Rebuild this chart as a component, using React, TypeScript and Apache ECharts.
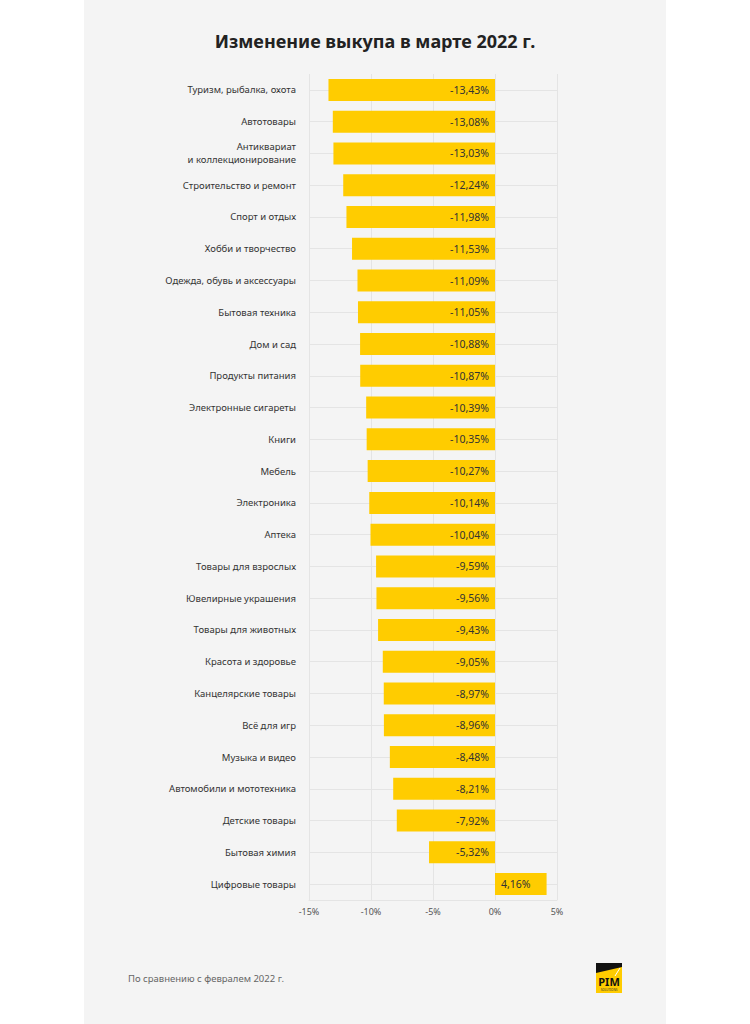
import React, { useEffect, useRef } from "react";
import * as echarts from "echarts";

const categories: string[] = [
  "Туризм, рыбалка, охота",
  "Автотовары",
  "Антиквариат\nи коллекционирование",
  "Строительство и ремонт",
  "Спорт и отдых",
  "Хобби и творчество",
  "Одежда, обувь и аксессуары",
  "Бытовая техника",
  "Дом и сад",
  "Продукты питания",
  "Электронные сигареты",
  "Книги",
  "Мебель",
  "Электроника",
  "Аптека",
  "Товары для взрослых",
  "Ювелирные украшения",
  "Товары для животных",
  "Красота и здоровье",
  "Канцелярские товары",
  "Всё для игр",
  "Музыка и видео",
  "Автомобили и мототехника",
  "Детские товары",
  "Бытовая химия",
  "Цифровые товары",
];

const values: number[] = [
  -13.43, -13.08, -13.03, -12.24, -11.98, -11.53, -11.09, -11.05, -10.88, -10.87,
  -10.39, -10.35, -10.27, -10.14, -10.04, -9.59, -9.56, -9.43, -9.05, -8.97,
  -8.96, -8.48, -8.21, -7.92, -5.32, 4.16,
];

const xTicks = { min: -15, max: 5, interval: 5 };

const TITLE = "Изменение выкупа в марте 2022 г.";
const NOTE = "По сравнению с февралем 2022 г.";

const FONT = "'Noto Sans', sans-serif";

export default function App() {
  const ref = useRef<HTMLDivElement>(null);
  useEffect(() => {
    if (!ref.current) return;
    const chart = echarts.init(ref.current, undefined, { renderer: "svg" });
    const fmt = (v: number) => v.toFixed(2).replace(".", ",") + "%";
    chart.setOption({
      animation: false,
      backgroundColor: "#ffffff",
      textStyle: { fontFamily: FONT },
      title: {
        text: TITLE,
        left: "center",
        top: 27,
        textStyle: { fontSize: 18, fontWeight: "bold", color: "#222222", fontFamily: FONT },
      },
      grid: { left: 309, right: 193, top: 74, bottom: 124, containLabel: false },
      xAxis: {
        type: "value",
        min: xTicks.min,
        max: xTicks.max,
        interval: xTicks.interval,
        axisLabel: {
          formatter: (v: number) => v + "%",
          color: "#555555",
          fontSize: 9,
          margin: 7,
          fontFamily: FONT,
        },
        axisLine: { show: true, lineStyle: { color: "#e4e4e4" } },
        axisTick: { show: false },
        splitLine: { show: true, lineStyle: { color: "#e4e4e4", width: 1 } },
      },
      yAxis: {
        type: "category",
        inverse: true,
        data: categories,
        axisLine: { show: false },
        axisTick: { show: false },
        axisLabel: {
          color: "#333333",
          fontSize: 9.5,
          margin: 13,
          lineHeight: 13,
          fontFamily: FONT,
        },
        splitLine: {
          show: true,
          alignWithLabel: true,
          lineStyle: { color: "#e4e4e4", width: 1 },
        },
      },
      graphic: [
        {
          type: "rect",
          z: -100,
          shape: { x: 84, y: 0, width: 582, height: 1024 },
          style: { fill: "#f4f4f4" },
          silent: true,
        },
        {
          type: "text",
          x: 128,
          y: 978,
          style: {
            text: NOTE,
            fill: "#666666",
            fontSize: 9.5,
            fontFamily: FONT,
            verticalAlign: "middle",
            align: "left",
          },
        },
        {
          type: "group",
          x: 596,
          y: 963,
          children: [
            { type: "rect", shape: { x: 0, y: 2, width: 26, height: 28 }, style: { fill: "#FFCC00" } },
            { type: "polygon", shape: { points: [[0, 0], [26, 0], [26, 4], [0, 10]] }, style: { fill: "#111111" } },
            { type: "line", shape: { x1: 24, y1: 5, x2: 19, y2: 13 }, style: { stroke: "#ffffff", lineWidth: 1 } },
            {
              type: "text",
              x: 13,
              y: 18,
              style: {
                text: "PIM",
                fill: "#111111",
                fontSize: 11,
                lineHeight: 11,
                fontWeight: "bold",
                fontFamily: FONT,
                align: "center",
                verticalAlign: "middle",
              },
            },
            {
              type: "text",
              x: 13,
              y: 26.5,
              style: {
                text: "SOLUTIONS",
                fill: "#333333",
                fontSize: 3,
                lineHeight: 3,
                fontFamily: FONT,
                align: "center",
                verticalAlign: "middle",
              },
            },
          ],
        },
      ],
      series: [
        {
          type: "bar",
          barWidth: 22,
          data: values.map((v) => ({
            value: v,
            label: { position: v < 0 ? "insideRight" : "insideLeft" },
          })),
          itemStyle: { color: "#FFCC00" },
          label: {
            show: true,
            formatter: (p: any) => fmt(p.value),
            color: "#333333",
            fontSize: 10.5,
            distance: 6,
            fontFamily: FONT,
          },
        },
      ],
    });
    return () => chart.dispose();
  }, []);
  return (
    <div
      ref={ref}
      style={{ position: "absolute", left: 0, top: 0, width: 750, height: 1024 }}
    />
  );
}
